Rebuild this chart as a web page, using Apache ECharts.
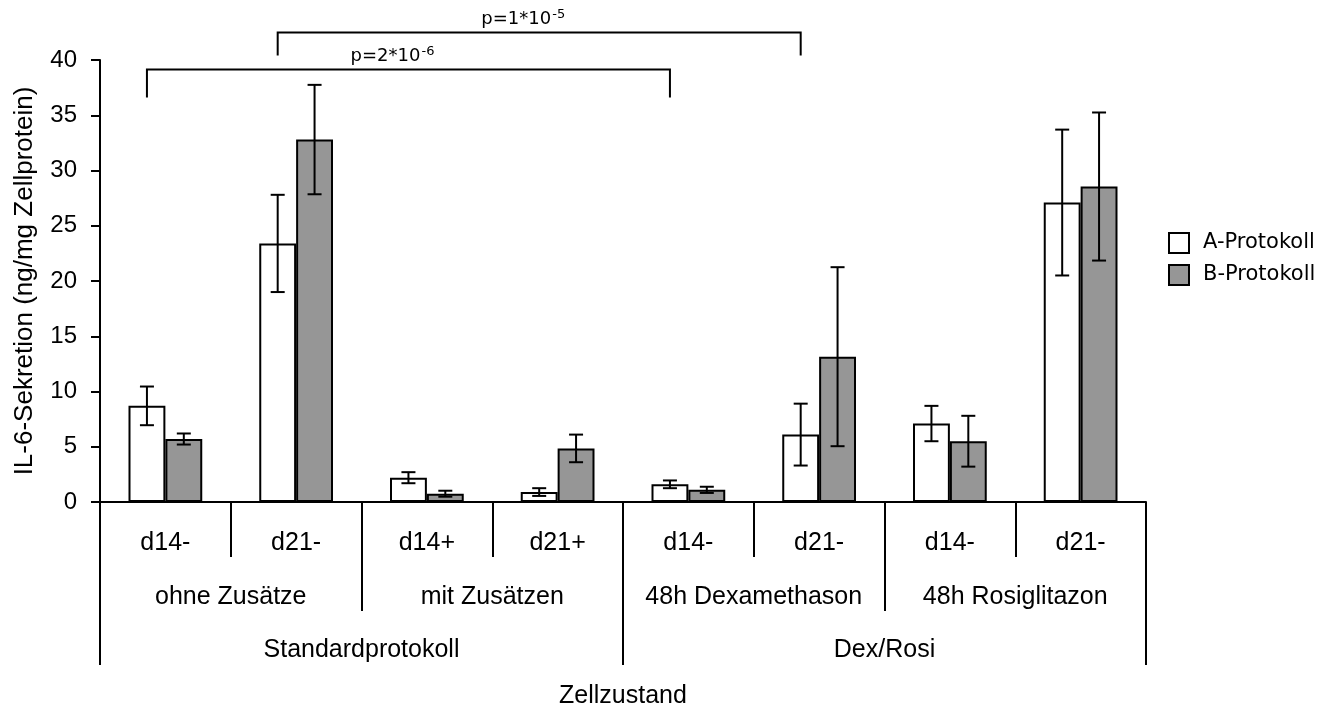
<!DOCTYPE html>
<html><head><meta charset="utf-8">
<script src="https://cdn.jsdelivr.net/npm/echarts@6/dist/echarts.min.js"></script>
<style>html,body{margin:0;padding:0;background:#fff}#c{width:1328px;height:714px}</style>
</head><body><div id="c"></div>
<script>
// ---- data ----
const categories = ['d14-', 'd21-', 'd14+', 'd21+', 'd14-', 'd21-', 'd14-', 'd21-'];
const subGroups = ['ohne Zusätze', 'mit Zusätzen', '48h Dexamethason', '48h Rosiglitazon'];
const groups = ['Standardprotokoll', 'Dex/Rosi'];
const seriesNames = ['A-Protokoll', 'B-Protokoll'];
const valuesA = [8.7, 23.4, 2.2, 0.9, 1.6, 6.1, 7.1, 27.1];
const errA = [1.75, 4.4, 0.5, 0.35, 0.35, 2.8, 1.6, 6.6];
const valuesB = [5.7, 32.8, 0.75, 4.85, 1.1, 13.15, 5.5, 28.55];
const errB = [0.5, 4.95, 0.27, 1.25, 0.28, 8.1, 2.3, 6.7];
const yMin = 0, yMax = 40, yInterval = 5;
// significance brackets (category index of A-bars, line level, tip level)
const bracketFrom = [0, 1];
const bracketTo = [4, 5];
const bracketText = ['p=2*10', 'p=1*10'];
const bracketExp = ['-6', '-5'];
const bracketLine = [39.15, 42.5];
const bracketTip = [36.6, 40.4];

// ---- style ----
const BAR_RATIO = 0.282;
const AX = 'Liberation Sans, Arial, sans-serif';
const LG = 'DejaVu Sans, Verdana, sans-serif';

function errRender(sign) {
  return function (params, api) {
    const i = api.value(0);
    const lo = api.coord([i, api.value(1)]);
    const hi = api.coord([i, api.value(2)]);
    const band = api.size([1, 0])[0];
    const x = lo[0] + sign * band * BAR_RATIO / 2;
    const cap = 7;
    const style = { stroke: '#000', lineWidth: 2, fill: null };
    return { type: 'group', children: [
      { type: 'line', shape: { x1: x, y1: hi[1], x2: x, y2: lo[1] }, style },
      { type: 'line', shape: { x1: x - cap, y1: hi[1], x2: x + cap, y2: hi[1] }, style },
      { type: 'line', shape: { x1: x - cap, y1: lo[1], x2: x + cap, y2: lo[1] }, style }
    ] };
  };
}

function bracketRender(params, api) {
  const k = params.dataIndex;
  const a = api.coord([api.value(0), api.value(2)]);
  const b = api.coord([api.value(1), api.value(2)]);
  const t = api.coord([api.value(0), api.value(3)]);
  const band = api.size([1, 0])[0];
  const off = -band * BAR_RATIO / 2;
  const x1 = a[0] + off, x2 = b[0] + off, yl = a[1], yt = t[1];
  const cx = (x1 + x2) / 2 + 12;
  return { type: 'group', children: [
    { type: 'polyline', shape: { points: [[x1, yt], [x1, yl], [x2, yl], [x2, yt]] },
      style: { stroke: '#000', lineWidth: 2, fill: null } },
    { type: 'text', x: cx, y: yl - 13,
      style: { text: bracketText[k], font: '18px ' + LG, fill: '#000', align: 'right', verticalAlign: 'middle' } },
    { type: 'text', x: cx + 1, y: yl - 18,
      style: { text: bracketExp[k], font: '13px ' + LG, fill: '#000', align: 'left', verticalAlign: 'middle' } }
  ] };
}

const chart = echarts.init(document.getElementById('c'), null, { renderer: 'canvas' });
const axisLine = { show: true, lineStyle: { color: '#000', width: 2 } };
chart.setOption({
  animation: false,
  backgroundColor: '#fff',
  grid: { left: 100, right: 182, top: 60, bottom: 203, containLabel: false },
  legend: {
    orient: 'vertical', left: 1163, top: 227,
    itemWidth: 20, itemHeight: 20, itemGap: 10, icon: 'rect',
    data: seriesNames,
    textStyle: { fontFamily: LG, fontSize: 21, color: '#000', padding: [0, 0, 0, 9] },
    itemStyle: { borderColor: '#000', borderWidth: 2 }
  },
  xAxis: [
    { type: 'category', data: categories, position: 'bottom', offset: 0,
      axisLine: axisLine,
      axisTick: { show: true, interval: 0, length: 55, lineStyle: { color: '#000', width: 2 } },
      axisLabel: { interval: 0, margin: 29, fontFamily: AX, fontSize: 25, color: '#000' },
      name: 'Zellzustand', nameLocation: 'middle', nameGap: 182,
      nameTextStyle: { fontFamily: AX, fontSize: 25, color: '#000' } },
    { type: 'category', data: subGroups, position: 'bottom', offset: 0,
      axisLine: { show: false },
      axisTick: { show: true, interval: 0, length: 109, lineStyle: { color: '#000', width: 2 } },
      axisLabel: { interval: 0, margin: 83, fontFamily: AX, fontSize: 25, color: '#000' } },
    { type: 'category', data: groups, position: 'bottom', offset: 0,
      axisLine: { show: false },
      axisTick: { show: true, interval: 0, length: 163, lineStyle: { color: '#000', width: 2 } },
      axisLabel: { interval: 0, margin: 136, fontFamily: AX, fontSize: 25, color: '#000' } }
  ],
  yAxis: {
    type: 'value', min: yMin, max: yMax, interval: yInterval,
    axisLine: axisLine,
    axisTick: { show: true, length: 9, lineStyle: { color: '#000', width: 2 } },
    splitLine: { show: false },
    axisLabel: { margin: 23, fontFamily: AX, fontSize: 24, color: '#000' },
    name: 'IL-6-Sekretion (ng/mg Zellprotein)', nameLocation: 'middle', nameGap: 62, nameRotate: 90,
    nameTextStyle: { fontFamily: AX, fontSize: 26, color: '#000' }
  },
  series: [
    { name: seriesNames[0], type: 'bar', data: valuesA, barWidth: (BAR_RATIO * 100) + '%', barGap: '0%',
      itemStyle: { color: '#ffffff', borderColor: '#000', borderWidth: 2 } },
    { name: seriesNames[1], type: 'bar', data: valuesB, barWidth: (BAR_RATIO * 100) + '%', barGap: '0%',
      itemStyle: { color: '#969696', borderColor: '#000', borderWidth: 2 } },
    { type: 'custom', renderItem: errRender(-1), z: 5,
      encode: { x: 0, y: [1, 2] },
      data: valuesA.map((v, i) => [i, v - errA[i], v + errA[i]]) },
    { type: 'custom', renderItem: errRender(1), z: 5,
      encode: { x: 0, y: [1, 2] },
      data: valuesB.map((v, i) => [i, v - errB[i], v + errB[i]]) },
    { type: 'custom', renderItem: bracketRender, clip: false, z: 5,
      encode: { x: [0, 1], y: [2, 3] },
      data: bracketFrom.map((f, k) => [f, bracketTo[k], bracketLine[k], bracketTip[k]]) }
  ]
});
</script>
</body></html>
